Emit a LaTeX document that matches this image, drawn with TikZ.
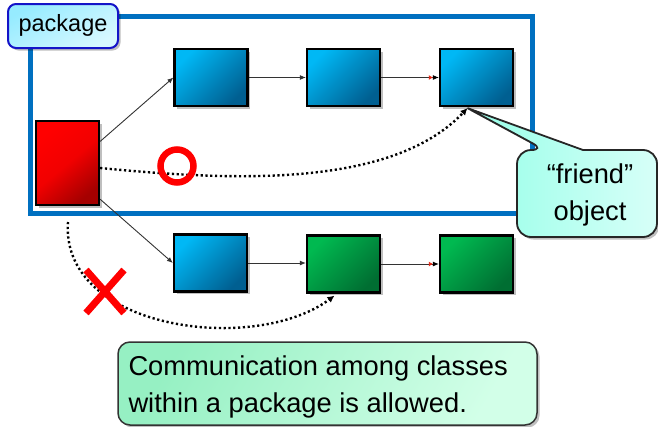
\documentclass[tikz,border=0pt]{standalone}
\usepackage{fontspec}
\setmainfont{Liberation Sans}
\usetikzlibrary{arrows.meta,shadows,calc}

\definecolor{pkgblue}{RGB}{0,112,192}
\definecolor{tabline}{RGB}{20,20,200}
\definecolor{tablt}{RGB}{150,235,255}
\definecolor{tabdk}{RGB}{215,248,255}
\definecolor{bluelt}{RGB}{0,184,245}
\definecolor{bluedk}{RGB}{0,95,145}
\definecolor{greenlt}{RGB}{0,185,80}
\definecolor{greendk}{RGB}{0,110,50}
\definecolor{redlt}{RGB}{255,0,0}
\definecolor{reddk}{RGB}{165,0,0}
\definecolor{calloutlt}{RGB}{150,255,232}
\definecolor{calloutdk}{RGB}{215,255,248}
\definecolor{notelt}{RGB}{150,240,195}
\definecolor{notedk}{RGB}{210,255,232}
\definecolor{markred}{RGB}{230,40,20}

\begin{document}
\begin{tikzpicture}[x=1pt,y=1pt,
  shadowed/.style={drop shadow={shadow xshift=2.5pt,shadow yshift=-2.5pt,fill=black,opacity=0.25}},
  cls/.style={draw=black,line width=2.2pt,inner sep=0pt,shadowed,
    minimum width=73pt,minimum height=57pt},
  bluecls/.style={cls,top color=bluelt,bottom color=bluedk,shading angle=45},
  greencls/.style={cls,top color=greenlt,bottom color=greendk,shading angle=45},
  redcls/.style={cls,top color=redlt,bottom color=reddk,middle color=redlt!85!reddk,shading angle=40,
    minimum width=63pt,minimum height=84pt},
  conn/.style={draw=black!80,line width=0.9pt,-{Latex[length=6pt,width=5pt]}},
  connmark/.style={draw=black!80,line width=0.9pt,
    -{Latex[length=4pt,width=5pt,markred]Latex[length=6pt,width=5pt,black]}},
  dotline/.style={line width=2.4pt,dash pattern=on 2.2pt off 2.6pt,
    -{Latex[length=7pt,width=7pt]}},
  bigtext/.style={font=\fontsize{27.3}{37}\selectfont},
]
\useasboundingbox (0,0) rectangle (658,-426);

% package frame
\draw[pkgblue,line width=5pt] (30,-16) rectangle (532,-213);

% package tab
\path[shadowed,draw=tabline,line width=2pt,rounded corners=8pt,
  top color=tablt,bottom color=tabdk,shading angle=30] (8,-4) rectangle (118,-48);
\node[font=\fontsize{23.5}{28}\selectfont] (pkg) at (63,-25) {package};

% classes
\node[redcls]   (red) at (67.5,-163) {};
\node[bluecls]  (b1)  at (211,-77.5) {};
\node[bluecls]  (b2)  at (343.5,-77.5) {};
\node[bluecls]  (b3)  at (476.5,-77.5) {};
\node[bluecls]  (b4)  at (210.5,-263) {};
\node[greencls] (g5)  at (343.5,-264) {};
\node[greencls] (g6)  at (476.5,-264) {};

% associations
\draw[conn] ($(red.north east)!0.25!(red.south east)$) -- (b1.west);
\draw[conn] ($(red.north east)!0.92!(red.south east)$) -- (b4.west);
\draw[conn] (b1.east) -- (b2.west);
\draw[connmark] (b2.east) -- (b3.west);
\draw[conn] (b4.east) -- (g5.west |- b4.east);
\draw[connmark] (g5.east) -- (g6.west);

% calls: allowed inside the package, refused from outside
\coordinate (okend) at ($(b3.south)+(-9,-1)$);
\coordinate (ngstart) at (68,-222);
\coordinate (ngend) at ($(g5.south)+(-9,-2)$);
\draw[dotline] ($(red.east)+(0,-5)$) .. controls (225,-180) and (390,-190) .. (okend);
\draw[dotline] (ngstart) .. controls (60,-330) and (255,-355) .. (ngend);

% marks
\draw[red,line width=6.5pt] (177,-166) circle (16.5pt);
\node (okmark) at (177,-166) {};
\draw[red,line width=7pt] (86,-270) -- (124,-313) (124,-270) -- (86,-313);
\node (ngmark) at (105,-292) {};

% "friend" callout
\path[shadowed,draw=black!85,line width=1.8pt,left color=calloutlt,right color=calloutdk]
  (517,-195) [rounded corners=14pt]-- (517,-150) -- (545,-150) [sharp corners]-- (okend)
  -- (583,-150) [rounded corners=14pt]-- (657,-150) -- (657,-237) -- (517,-237) -- cycle;
\node[bigtext,align=center] (friend) at (590,-195) {“friend”\\object};

% note
\path[shadowed,draw=black!80,line width=1.5pt,rounded corners=12pt,
  top color=notelt,bottom color=notedk,shading angle=60] (118,-342) rectangle (537,-425);
\node[bigtext,align=left,anchor=west] (note) at (125,-387)
  {Communication among classes\\within a package is allowed.};
\end{tikzpicture}
\end{document}
